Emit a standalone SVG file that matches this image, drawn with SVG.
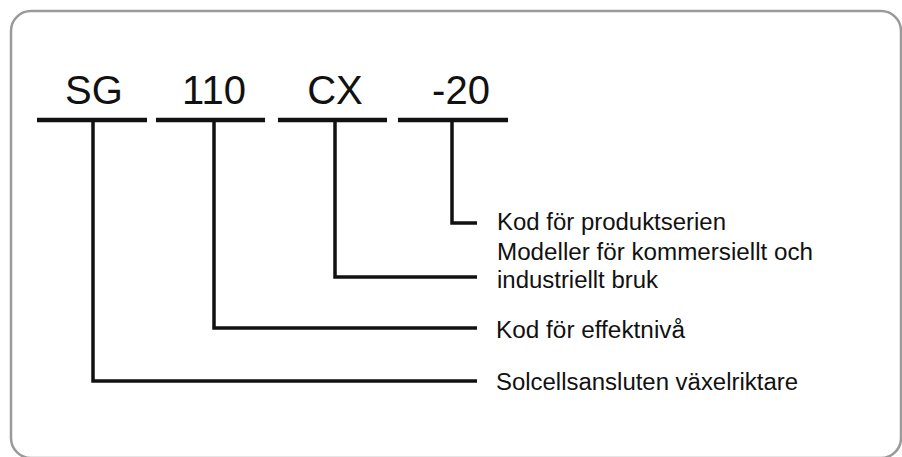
<svg xmlns="http://www.w3.org/2000/svg" width="902" height="457" viewBox="0 0 902 457">
<style>
.frame{fill:#ffffff;stroke:#9a9a9a;stroke-width:2.5}
.code{font-family:"Liberation Sans",Arial,sans-serif;font-size:40px;fill:#111111;text-anchor:middle}
.lbl{font-family:"Liberation Sans",Arial,sans-serif;font-size:23px;fill:#111111}
.under{stroke:#111111;stroke-width:4.5;fill:none}
.conn{stroke:#111111;stroke-width:3.5;fill:none;stroke-linejoin:miter}
</style>
<rect x="0" y="0" width="902" height="457" fill="#ffffff"/>
<rect class="frame" x="11" y="11" width="890" height="447" rx="20" ry="20"/>
<g id="node-sg">
<text class="code" x="94" y="104">SG</text>
<line class="under" x1="37" y1="120" x2="147" y2="120"/>
</g>
<g id="node-110">
<text class="code" x="214" y="104">110</text>
<line class="under" x1="156" y1="120" x2="265" y2="120"/>
</g>
<g id="node-cx">
<text class="code" x="335" y="104">CX</text>
<line class="under" x1="278" y1="120" x2="387" y2="120"/>
</g>
<g id="node-20">
<text class="code" x="461" y="104">-20</text>
<line class="under" x1="398" y1="120" x2="508" y2="120"/>
</g>
<g id="label-serie">
<text class="lbl" x="497" y="230" textLength="229" lengthAdjust="spacingAndGlyphs">Kod för produktserien</text>
</g>
<g id="label-modell">
<text class="lbl" x="497" y="260" textLength="316" lengthAdjust="spacingAndGlyphs">Modeller för kommersiellt och</text>
<text class="lbl" x="497" y="288" textLength="161" lengthAdjust="spacingAndGlyphs">industriellt bruk</text>
</g>
<g id="label-effekt">
<text class="lbl" x="496" y="338" textLength="189" lengthAdjust="spacingAndGlyphs">Kod för effektnivå</text>
</g>
<g id="label-sol">
<text class="lbl" x="496" y="390" textLength="302" lengthAdjust="spacingAndGlyphs">Solcellsansluten växelriktare</text>
</g>
<g id="connectors">
<polyline class="conn" points="452,122 452,223 477,223"/>
<polyline class="conn" points="335,122 335,277 477,277"/>
<polyline class="conn" points="214,122 214,328 477,328"/>
<polyline class="conn" points="93,122 93,381 477,381"/>
</g>
</svg>
